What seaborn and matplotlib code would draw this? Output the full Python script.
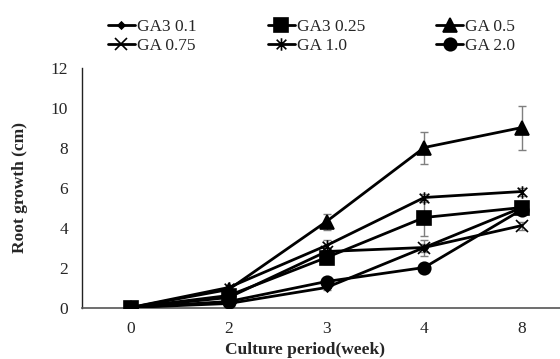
import matplotlib
matplotlib.use("Agg")
import matplotlib.pyplot as plt
from matplotlib.path import Path
import numpy as np
import seaborn as sns

weeks = ["0", "2", "3", "4", "8"]
series_names = ["GA3 0.1", "GA3 0.25", "GA 0.5", "GA 0.75", "GA 1.0", "GA 2.0"]
ga3_01 = [0, 0.2, 1.0, 3.0, 5.0]
ga3_025 = [0, 0.6, 2.5, 4.5, 5.0]
ga_05 = [0, 0.9, 4.3, 8.0, 9.0]
ga_075 = [0, 0.5, 2.8, 3.0, 4.1]
ga_10 = [0, 1.0, 3.1, 5.5, 5.8]
ga_20 = [0, 0.3, 1.3, 2.0, 4.9]
err_01 = [0, 0.05, 0.1, 0.2, 0.1]
err_025 = [0, 0.1, 0.3, 0.9, 0.3]
err_05 = [0, 0.1, 0.4, 0.8, 1.1]
err_075 = [0, 0.1, 0.2, 0.4, 0.2]
err_10 = [0, 0.1, 0.3, 0.2, 0.2]
err_20 = [0, 0.05, 0.1, 0.1, 0.1]

values = [ga3_01, ga3_025, ga_05, ga_075, ga_10, ga_20]
errors = [err_01, err_025, err_05, err_075, err_10, err_20]

star = Path([(-1, -1), (1, 1), (-1, 1), (1, -1), (0, -1.3), (0, 1.3)],
            [Path.MOVETO, Path.LINETO, Path.MOVETO, Path.LINETO, Path.MOVETO, Path.LINETO])
markers = ["D", "s", "^", "x", star, "o"]
msizes = [3.5, 9.5, 9.5, 8.5, 9, 9]

sns.set_style("white")
plt.rcParams["font.family"] = ["Liberation Serif", "DejaVu Serif"]
plt.rcParams["font.size"] = 12.5

fig = plt.figure(figsize=(5.6, 3.59), dpi=100)
ax = fig.add_axes([82 / 560, 1 - 307.5 / 359, 489 / 560, 240 / 359])

xpos = np.arange(len(weeks))
for vals, errs in zip(values, errors):
    ax.errorbar(xpos, vals, yerr=errs, fmt="none", ecolor="#7f7f7f",
                elinewidth=1.0, capsize=3, capthick=1.0, zorder=1)

for name, vals, mk, ms in zip(series_names, values, markers, msizes):
    sns.lineplot(x=xpos, y=vals, ax=ax, color="black", linewidth=2.0,
                 marker=mk, markersize=ms, markeredgecolor="black",
                 markerfacecolor="black", markeredgewidth=1.2,
                 label=name, errorbar=None, zorder=3, legend=False)

ax.set_xlim(-0.5, 4.5)
ax.set_ylim(0, 12)
ax.set_yticks([0, 2, 4, 6, 8, 10, 12])
ax.set_xticks(np.arange(-0.5, 4.6, 1.0))
ax.set_xticklabels([])
ax.set_xticks(xpos, minor=True)
ax.set_xticklabels(weeks, minor=True)
ax.tick_params(axis="x", which="major", direction="out", length=4, width=1, color="#555555")
ax.tick_params(axis="x", which="minor", length=0, pad=10, labelsize=12.5)
ax.tick_params(axis="y", direction="out", length=4, width=1, pad=6, labelsize=12.5)
for s in ["top", "right"]:
    ax.spines[s].set_visible(False)
ax.spines["left"].set_color("#222222")
ax.spines["bottom"].set_color("#555555")
ax.spines["left"].set_linewidth(1.0)
ax.spines["bottom"].set_linewidth(1.2)

ax.set_xlabel("Culture period(week)", fontweight="bold", fontsize=12.5)
ax.set_ylabel("Root growth (cm)", fontweight="bold", fontsize=12.5)
ax.xaxis.set_label_coords((305 - 82) / 489, -0.142)
ax.yaxis.set_label_coords(-(82 - 28) / 489, 0.5)

lines = [h for h in ax.get_lines() if h.get_label() in series_names]
order = [0, 3, 1, 4, 2, 5]
handles = [lines[i] for i in order]
fig.legend(handles, [h.get_label() for h in handles], loc="upper left",
           bbox_to_anchor=(108 / 560, 1 - 19 / 359), ncol=3, frameon=False,
           borderpad=0, borderaxespad=0, handlelength=1.55, handletextpad=0.12,
           columnspacing=4.1, labelspacing=0.18, fontsize=12.5)

fig.savefig("out.png", dpi=100)
